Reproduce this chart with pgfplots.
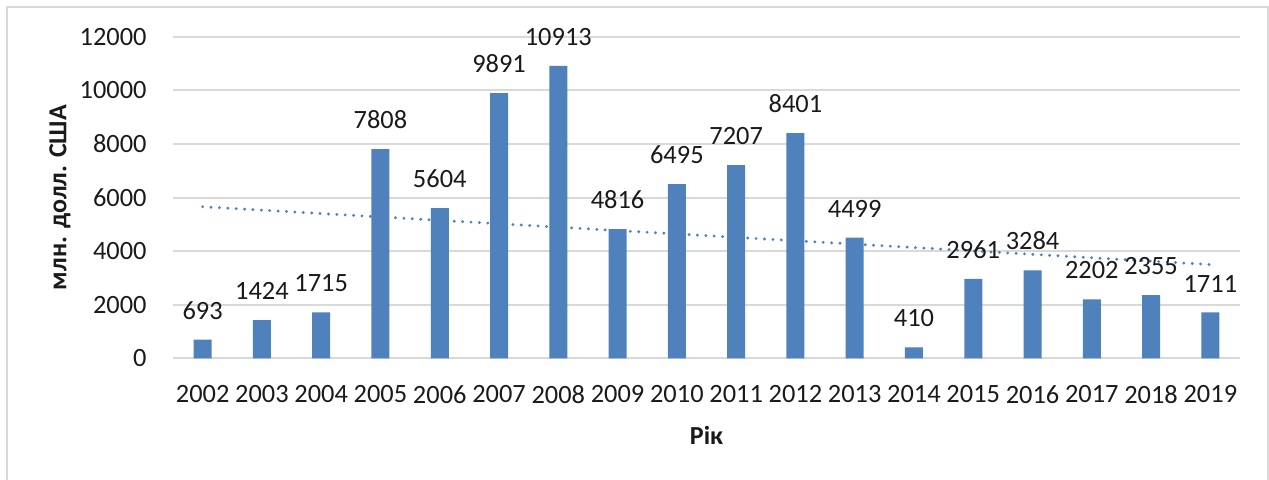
\documentclass[border=0pt]{standalone}
\usepackage{fontspec}
\setmainfont{Carlito}
\usepackage{pgfplots}
\pgfplotsset{compat=1.18}
\definecolor{barblue}{HTML}{4F81BD}
\definecolor{gridgray}{HTML}{D9D9D9}
\definecolor{txt}{HTML}{1A1A1A}
\begin{document}
\begin{tikzpicture}
\useasboundingbox (0,0) rectangle (634.5pt,239.5pt);
\fill[white] (0,0) rectangle (634.5pt,239.5pt);
\draw[gridgray, line width=1pt] (3.5pt,-2pt) -- (3.5pt,236pt) -- (634pt,236pt) -- (634pt,-2pt);
\begin{axis}[
  at={(86.5pt,60.35pt)}, anchor=south west,
  scale only axis, width=533.5pt, height=160.8pt,
  xmin=-0.5, xmax=17.5, ymin=0, ymax=12000,
  xtick={0,...,17},
  xticklabels={2002,2003,2004,2005,2006,2007,2008,2009,2010,2011,2012,2013,2014,2015,2016,2017,2018,2019},
  ytick={0,2000,4000,6000,8000,10000,12000},
  scaled y ticks=false,
  /pgf/number format/.cd, 1000 sep={}, fixed, assume math mode=true, /pgfplots/.cd,
  axis x line*=bottom, axis y line*=left,
  y axis line style={draw=none},
  x axis line style={draw=gridgray, line width=1pt, -},
  major tick length=0pt,
  ymajorgrids, grid style={gridgray, line width=1pt},
  tick label style={font=\fontsize{13.2}{15}\selectfont, text=txt},
  yticklabel style={anchor=east, inner sep=0pt, xshift=-13pt},
  xticklabel style={anchor=north, inner sep=0pt, yshift=-13.5pt},
  xlabel={\textbf{Рік}},
  ylabel={\textbf{млн. долл. США}},
  xlabel style={at={(axis description cs:0.5,0)}, anchor=center, yshift=-38.5pt, font=\fontsize{13}{15}\selectfont, text=txt},
  ylabel style={at={(axis description cs:-0.1059,0.5)}, anchor=center, font=\fontsize{13}{15}\selectfont, text=txt},
  clip=false,
]
\addplot[ybar, bar width=9pt, fill=barblue, draw=none,
  nodes near coords, point meta=y,
  every node near coord/.append style={anchor=south, inner sep=0pt, yshift=10pt, font=\fontsize{13.2}{15}\selectfont, text=txt}]
coordinates {
(0,693) (1,1424) (2,1715) (3,7808) (4,5604) (5,9891) (6,10913) (7,4816) (8,6495)
(9,7207) (10,8401) (11,4499) (12,410) (13,2961) (14,3284) (15,2202) (16,2355) (17,1711)
};
\addplot[barblue, line width=1.6pt, line cap=round, dash pattern=on 0pt off 4.2pt]
coordinates {(0,5655) (17,3499)};
\end{axis}
\end{tikzpicture}
\end{document}
